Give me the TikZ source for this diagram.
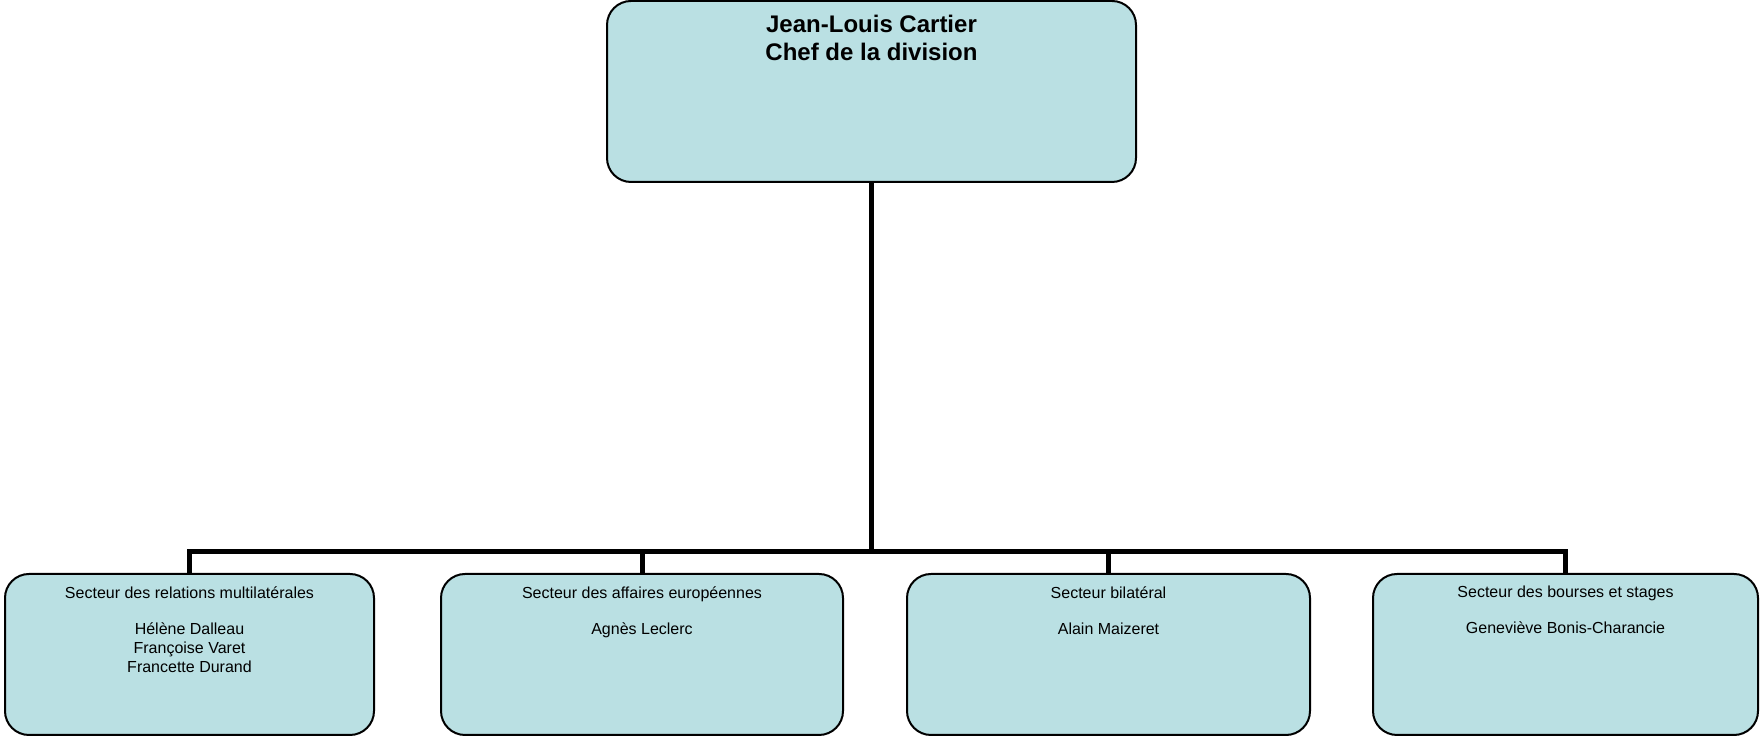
\documentclass[tikz,border=0pt]{standalone}
\usepackage{fontspec}
\setmainfont{Liberation Sans}
\definecolor{boxfill}{RGB}{186,224,227}
\tikzset{
  unit/.style={draw, line width=1pt, rounded corners=12pt, fill=boxfill, minimum height=80.5pt, inner sep=0pt},
  headtxt/.style={anchor=north, align=center, inner sep=0pt, font=\fontsize{12}{14}\selectfont\bfseries},
  unittxt/.style={anchor=north, align=center, inner sep=0pt, font=\fontsize{8}{9.5}\selectfont},
  link/.style={line width=2.5pt}
}
\begin{document}
\begin{tikzpicture}[x=0.5pt,y=0.5pt]
\useasboundingbox (0,0) rectangle (1760,737);

\node[unit, minimum width=264.5pt, minimum height=90.5pt] (chef) at (871.5,645.5) {};
\node[headtxt, yshift=-7.5pt] (chefT) at (chef.north) {Jean-Louis Cartier\\Chef de la division};

\node[unit, minimum width=184.5pt] (s1) at (189.5,82.5) {};
\node[unit, minimum width=201pt] (s2) at (642,82.5) {};
\node[unit, minimum width=201.5pt] (s3) at (1108.5,82.5) {};
\node[unit, minimum width=192.5pt] (s4) at (1565.5,82.5) {};

\node[unittxt, yshift=-6.5pt] (s1T) at (s1.north) {Secteur des relations multilatérales\\[8.5pt]Hélène Dalleau\\Françoise Varet\\Francette Durand};
\node[unittxt, yshift=-6.5pt] (s2T) at (s2.north) {Secteur des affaires européennes\\[8.5pt]Agnès Leclerc};
\node[unittxt, yshift=-6.5pt] (s3T) at (s3.north) {Secteur bilatéral\\[8.5pt]Alain Maizeret};
\node[unittxt, yshift=-6.5pt] (s4T) at (s4.north) {Secteur des bourses et stages\\[8.5pt]Geneviève Bonis-Charancie};

% bus between the head and the sectors
\coordinate (bar) at (0,185);
\draw[link] (chef.south) -- (chef.south |- bar);
\draw[link] (s1.north) -- (s1.north |- bar) -- (s4.north |- bar) -- (s4.north);
\draw[link] (s2.north) -- (s2.north |- bar);
\draw[link] (s3.north) -- (s3.north |- bar);
\end{tikzpicture}
\end{document}
